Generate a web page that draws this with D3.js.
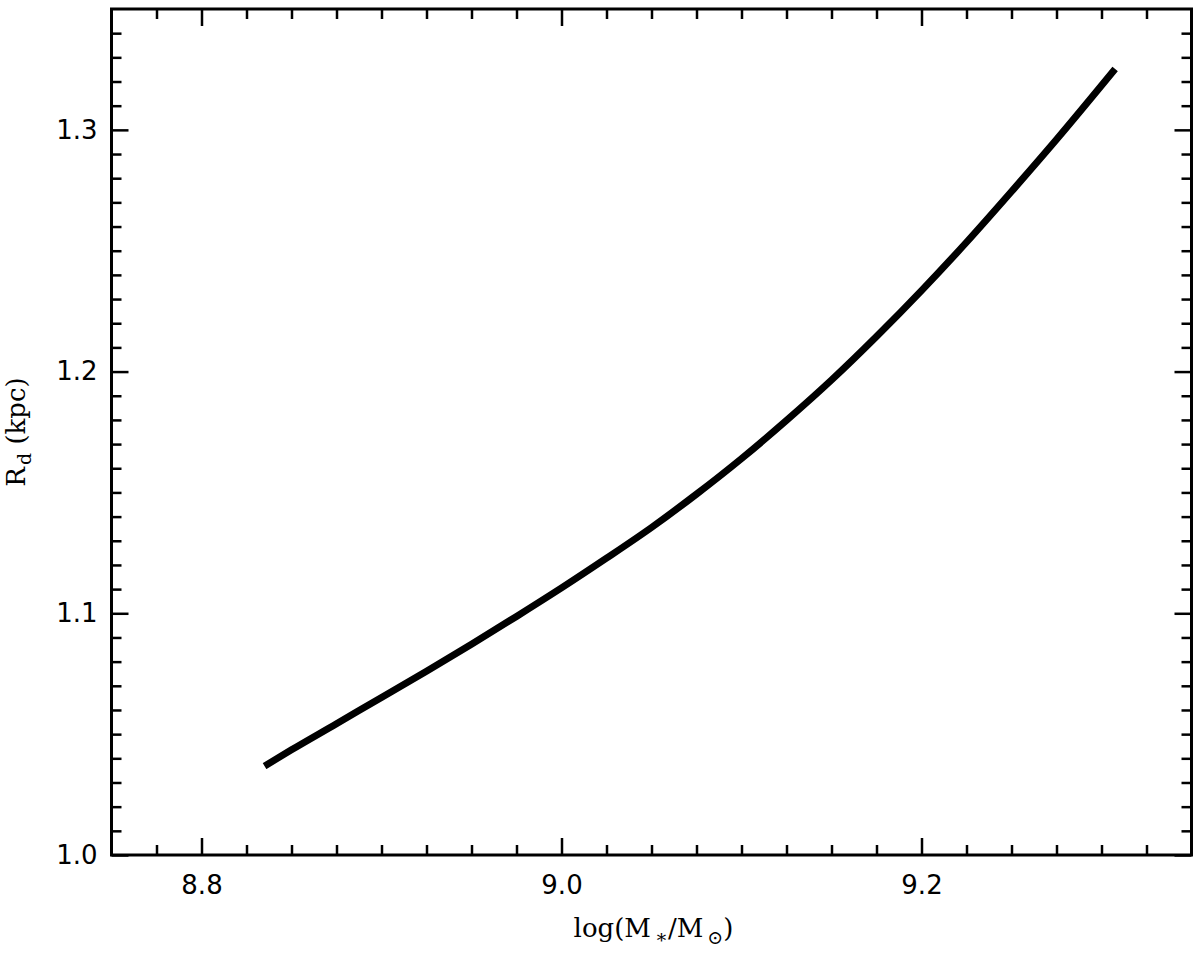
<!DOCTYPE html>
<html>
<head>
<meta charset="utf-8">
<script src="https://cdn.jsdelivr.net/npm/d3@7"></script>
<style>
  html, body { margin: 0; padding: 0; background: #fff; }
  svg { display: block; }
  .tick text { font-family: "DejaVu Sans", sans-serif; font-size: 26px; fill: #000; }
  .axlabel { font-family: "DejaVu Serif", "Liberation Serif", serif; font-size: 26px; fill: #000; }
</style>
</head>
<body>
<svg id="chart" width="1200" height="953"></svg>
<script>
// ---- data ----
const logMass = [8.835, 8.85, 8.875, 8.90, 8.925, 8.95, 8.975, 9.00, 9.025, 9.05,
                 9.075, 9.10, 9.125, 9.15, 9.175, 9.20, 9.225, 9.25, 9.275, 9.3076];
const diskRadius = [1.0368, 1.0435, 1.0543, 1.0652, 1.0760, 1.0872, 1.0987, 1.1105, 1.1228, 1.1355,
                    1.1493, 1.1640, 1.1798, 1.1965, 1.2145, 1.2335, 1.2535, 1.2745, 1.2960, 1.3252];
const xMajorTicks = [8.8, 9.0, 9.2];
const yMajorTicks = [1.0, 1.1, 1.2, 1.3];
const xDomain = [8.75, 9.35];
const yDomain = [1.0, 1.35];

// ---- layout ----
const svg = d3.select("#chart");
const L = 111.5, R = 1191.5, T = 9, B = 855;
const x = d3.scaleLinear().domain(xDomain).range([L, R]);
const y = d3.scaleLinear().domain(yDomain).range([B, T]);

const xMinor = d3.range(0, 25).map(i => +(8.75 + i * 0.025).toFixed(3))
  .filter(v => v > xDomain[0] && v < xDomain[1] && !xMajorTicks.some(m => Math.abs(m - v) < 1e-6));
const yMinor = d3.range(0, 36).map(i => +(1.0 + i * 0.01).toFixed(3))
  .filter(v => v > yDomain[0] && v < yDomain[1] && !yMajorTicks.some(m => Math.abs(m - v) < 1e-6));

const MAJ = 17, MIN = 10;
const fmt = d3.format(".1f");

function styleAxis(g) {
  g.select(".domain").remove();
  g.selectAll(".tick line").attr("stroke", "#000").attr("stroke-width", 2.5);
}

// bottom
svg.append("g").attr("transform", `translate(0,${B})`)
  .call(d3.axisBottom(x).tickValues(xMajorTicks).tickSize(-MAJ).tickPadding(21).tickFormat(fmt))
  .call(styleAxis);
svg.append("g").attr("transform", `translate(0,${B})`)
  .call(d3.axisBottom(x).tickValues(xMinor).tickSize(-MIN).tickFormat(""))
  .call(styleAxis);
// top
svg.append("g").attr("transform", `translate(0,${T})`)
  .call(d3.axisTop(x).tickValues(xMajorTicks).tickSize(-MAJ).tickFormat(""))
  .call(styleAxis);
svg.append("g").attr("transform", `translate(0,${T})`)
  .call(d3.axisTop(x).tickValues(xMinor).tickSize(-MIN).tickFormat(""))
  .call(styleAxis);
// left
svg.append("g").attr("transform", `translate(${L},0)`)
  .call(d3.axisLeft(y).tickValues(yMajorTicks).tickSize(-MAJ).tickPadding(14).tickFormat(fmt))
  .call(styleAxis);
svg.append("g").attr("transform", `translate(${L},0)`)
  .call(d3.axisLeft(y).tickValues(yMinor).tickSize(-MIN).tickFormat(""))
  .call(styleAxis);
// right
svg.append("g").attr("transform", `translate(${R},0)`)
  .call(d3.axisRight(y).tickValues(yMajorTicks).tickSize(-MAJ).tickFormat(""))
  .call(styleAxis);
svg.append("g").attr("transform", `translate(${R},0)`)
  .call(d3.axisRight(y).tickValues(yMinor).tickSize(-MIN).tickFormat(""))
  .call(styleAxis);

// frame
svg.append("rect").attr("x", L).attr("y", T).attr("width", R - L).attr("height", B - T)
  .attr("fill", "none").attr("stroke", "#000").attr("stroke-width", 3);

// curve
const pts = logMass.map((m, i) => [m, diskRadius[i]]);
svg.append("path")
  .datum(pts)
  .attr("fill", "none")
  .attr("stroke", "#000")
  .attr("stroke-width", 7)
  .attr("stroke-linecap", "butt")
  .attr("d", d3.line().x(d => x(d[0])).y(d => y(d[1])).curve(d3.curveMonotoneX));

// x label
const xl = svg.append("text").attr("class", "axlabel")
  .attr("x", (L + R) / 2 + 2).attr("y", 937).attr("text-anchor", "middle");
xl.append("tspan").text("log(M");
xl.append("tspan").attr("font-size", "19px").attr("dx", 4).attr("dy", 6).text("\u2217");
xl.append("tspan").attr("dy", -6).text("/M");
xl.append("tspan").attr("font-size", "19px").attr("dx", 4).attr("dy", 7).text("\u2299");
xl.append("tspan").attr("dy", -7).text(")");

// y label
const yl = svg.append("text").attr("class", "axlabel")
  .attr("transform", `translate(25,${(T + B) / 2}) rotate(-90)`)
  .attr("text-anchor", "middle");
yl.append("tspan").text("R");
yl.append("tspan").attr("font-size", "19px").attr("dx", 2).attr("dy", 6).text("d");
yl.append("tspan").attr("dy", -6).text(" (kpc)");
</script>
</body>
</html>
